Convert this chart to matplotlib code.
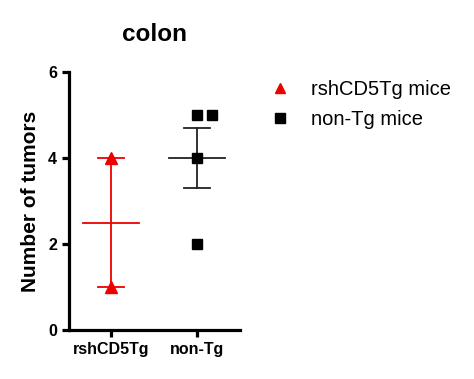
import matplotlib
matplotlib.use("Agg")
import matplotlib.pyplot as plt
from matplotlib.lines import Line2D
import numpy as np

plt.rcParams['font.family'] = ['Liberation Sans', 'DejaVu Sans']

categories = ["rshCD5Tg", "non-Tg"]
legend_labels = ["rshCD5Tg mice", "non-Tg mice"]
tg_values = [4, 1]
nontg_values = [5, 5, 4, 2]
nontg_jitter = [0, 0.17, 0, 0]
colors = ["#ee0000", "#000000"]
err_colors = ["#ee0000", "#222222"]
markers = ["^", "s"]

fig = plt.figure(figsize=(4.74, 3.79), dpi=100)
ax = fig.add_axes([0.1456, 0.129, 0.506 - 0.1456, 0.810 - 0.129])

groups = [tg_values, nontg_values]
jitters = [[0, 0], nontg_jitter]
for i, (vals, jit) in enumerate(zip(groups, jitters)):
    vals = np.array(vals, dtype=float)
    xs = i + np.array(jit)
    ax.plot(xs, vals, linestyle='none', marker=markers[i], color=colors[i],
            markersize=8 if markers[i] == "^" else 7.5, zorder=3, clip_on=False)
    m = vals.mean()
    sem = vals.std(ddof=1) / np.sqrt(len(vals))
    ec = err_colors[i]
    ax.plot([i - 0.33, i + 0.33], [m, m], color=ec, lw=1.3, zorder=2)
    ax.plot([i, i], [m - sem, m + sem], color=ec, lw=1.3, zorder=2)
    for y in (m - sem, m + sem):
        ax.plot([i - 0.15, i + 0.15], [y, y], color=ec, lw=1.3, zorder=2)

ax.set_xlim(-0.49, 1.5)
ax.set_ylim(0, 6)
ax.set_yticks([0, 2, 4, 6])
ax.set_xticks([0, 1])
ax.set_xticklabels(categories)
for s in ["top", "right"]:
    ax.spines[s].set_visible(False)
for s in ["left", "bottom"]:
    ax.spines[s].set_linewidth(2.3)
ax.tick_params(axis='both', width=2.3, length=5, labelsize=11.5)
for lab in ax.get_xticklabels() + ax.get_yticklabels():
    lab.set_fontweight('bold')
ax.set_ylabel("Number of tumors", fontsize=15, fontweight='bold', labelpad=6)
ax.set_title("colon", fontsize=17.5, fontweight='bold', pad=22)

handles = [Line2D([], [], linestyle='none', marker=markers[i], color=colors[i],
                  markersize=6.5) for i in range(2)]
fig.legend(handles, legend_labels, loc='upper left', bbox_to_anchor=(0.527, 0.837),
           frameon=False, fontsize=14.5, handlelength=1.2, handletextpad=0.95,
           labelspacing=0.55)

fig.savefig("out.png", dpi=100)
